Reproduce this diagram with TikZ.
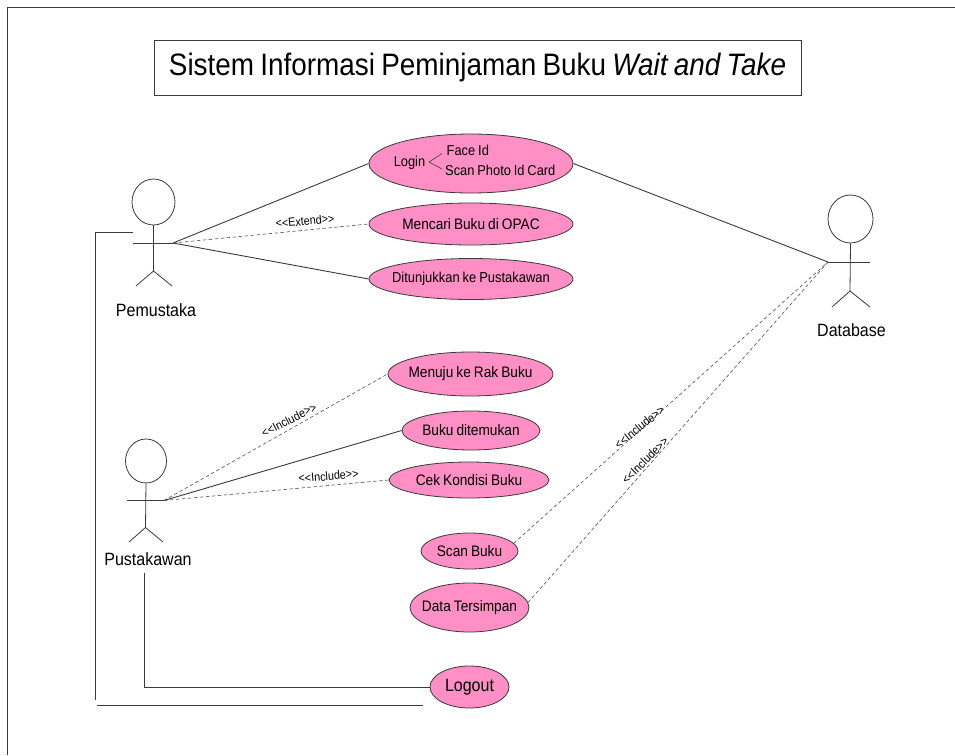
\documentclass[tikz,border=0pt]{standalone}
\usepackage{fontspec}
\setmainfont{Liberation Sans}
\newfontfamily\narrowfam[FakeStretch=0.9,WordSpace=0.8]{Liberation Sans}
\usetikzlibrary{shapes.geometric}
\definecolor{ucpink}{HTML}{FF8FC4}
\definecolor{linegrey}{HTML}{3A3A3A}
\definecolor{dashgrey}{HTML}{505050}
\tikzset{
  usecase/.style n args={2}{ellipse,draw=linegrey,line width=0.8pt,fill=ucpink,inner sep=0pt,minimum width=#1pt,minimum height=#2pt,text=black,font=\narrowfam\fontsize{15.2}{17}\selectfont},
  conn/.style={draw=linegrey,line width=0.9pt},
  dash conn/.style={draw=dashgrey,line width=0.6pt,dash pattern=on 3.5pt off 2.5pt},
  actorline/.style={draw=linegrey,line width=0.8pt},
  actorlabel/.style={font=\narrowfam\fontsize{17.8}{20}\selectfont,text=black,inner sep=0pt},
  stereo/.style={font=\narrowfam\fontsize{12}{14}\selectfont,text=black,inner sep=0pt},
  plain text/.style={font=\narrowfam\fontsize{14.3}{16}\selectfont,text=black,inner sep=0pt},
  small case/.style={font=\narrowfam\fontsize{14.4}{16}\selectfont},
}
\newcommand{\casetext}[1]{\makebox[0pt][c]{#1}}
\begin{document}
\begin{tikzpicture}[x=1pt,y=-1pt]
\useasboundingbox (0,0) rectangle (955,755);
\fill[white] (0,0) rectangle (955,755);
% frame
\coordinate (fbl) at (7,755);
\coordinate (ftl) at (7,7);
\coordinate (ftr) at (955,7);
\draw[actorline] (fbl) -- (ftl) -- (ftr);
% title
\node[draw=linegrey,line width=0.8pt,minimum width=647pt,minimum height=55pt,inner sep=0pt,font=\narrowfam\fontsize{31}{36}\selectfont] (title) at (477.5,67.5) {Sistem Informasi Peminjaman Buku \textit{Wait and Take}};
% use cases
\node[usecase={204}{59}] (login) at (471,163.5) {};
\node[usecase={204}{42}] (opac) at (471,224) {\casetext{Mencari Buku di OPAC}};
\node[usecase={204}{41},small case] (tunjuk) at (471,279) {\casetext{Ditunjukkan ke Pustakawan}};
\node[usecase={165}{44}] (rak) at (470.5,374) {\casetext{Menuju ke Rak Buku}};
\node[usecase={138}{39}] (temu) at (471,430.5) {\casetext{Buku ditemukan}};
\node[usecase={160}{36}] (cek) at (469,480) {\casetext{Cek Kondisi Buku}};
\node[usecase={97}{36}] (scan) at (469.5,551) {\casetext{Scan Buku}};
\node[usecase={119}{49}] (data) at (469.5,607.5) {\casetext{Data Tersimpan}};
\node[usecase={79}{42},font=\narrowfam\fontsize{17.8}{20}\selectfont] (logout) at (469.5,687) {\casetext{Logout}};
% login contents
\node[plain text] (logintxt) at (409.5,163) {Login};
\node[plain text,anchor=west] (faceid) at (446.5,150.5) {Face Id};
\node[plain text,anchor=west] (scanid) at (445,170) {Scan Photo Id Card};
\coordinate (brtip) at (429,162);
\coordinate (brup) at (442,153.5);
\coordinate (brdn) at (442,169);
\draw[actorline,line width=0.6pt] (brup) -- (brtip) -- (brdn);
% Pemustaka
\coordinate (pmA) at (173,243);
\coordinate (pmB) at (133,243);
\coordinate (pmHip) at (153.5,271);
\node[ellipse,draw=linegrey,line width=0.8pt,minimum width=43pt,minimum height=46pt,inner sep=0pt] (pmHead) at (153.5,202) {};
\draw[actorline] (pmHead.south) -- (pmHip);
\draw[actorline] (pmB) -- (pmA);
\coordinate (pmL) at (136,286);
\coordinate (pmR) at (172,286);
\draw[actorline] (pmL) -- (pmHip) -- (pmR);
\node[actorlabel] (pmLabel) at (156,310) {Pemustaka};
% Pustakawan
\coordinate (ptA) at (164,500.5);
\coordinate (ptB) at (127,500.5);
\coordinate (ptHip) at (145.5,527.5);
\node[ellipse,draw=linegrey,line width=0.8pt,minimum width=41pt,minimum height=44pt,inner sep=0pt] (ptHead) at (146,461) {};
\draw[actorline] (ptHead.south) -- (ptHip);
\draw[actorline] (ptB) -- (ptA);
\coordinate (ptL) at (129,542);
\coordinate (ptR) at (163,542);
\draw[actorline] (ptL) -- (ptHip) -- (ptR);
\node[actorlabel] (ptLabel) at (148,559) {Pustakawan};
% Database
\coordinate (dbA) at (828,262);
\coordinate (dbB) at (870,262);
\coordinate (dbHip) at (850,291);
\node[ellipse,draw=linegrey,line width=0.8pt,minimum width=45pt,minimum height=48pt,inner sep=0pt] (dbHead) at (850.5,219) {};
\draw[actorline] (dbHead.south) -- (dbHip);
\draw[actorline] (dbA) -- (dbB);
\coordinate (dbL) at (832,307);
\coordinate (dbR) at (870,307);
\draw[actorline] (dbL) -- (dbHip) -- (dbR);
\node[actorlabel] (dbLabel) at (851.5,330) {Database};
% connectors
\draw[conn] (pmA) -- (login.west);
\draw[dash conn] (pmA) -- (opac.west);
\draw[conn] (pmA) -- (tunjuk.west);
\draw[conn] (login.east) -- (dbA);
\draw[dash conn] (ptA) -- (rak.west);
\draw[conn] (ptA) -- (temu.west);
\draw[dash conn] (ptA) -- (cek.west);
\draw[dash conn] (scan.10) -- (dbA);
\draw[dash conn] (data.5) -- (dbA);
% outer routes
\coordinate (rA) at (133,232.5);
\coordinate (rB) at (95,232.5);
\coordinate (rC) at (95,700);
\draw[conn] (rA) -- (rB) -- (rC);
\coordinate (rD) at (97,705);
\coordinate (rE) at (423,705);
\draw[conn] (rD) -- (rE);
\coordinate (lgS) at (144,573);
\draw[conn] (lgS) |- (logout.west);
% stereotypes
\node[stereo,rotate=5] (s1) at (305,221) {<{}<Extend>{}>};
\node[stereo,rotate=27] (s2) at (289,420) {<{}<Include>{}>};
\node[stereo,rotate=5] (s3) at (328.5,476) {<{}<Include>{}>};
\node[stereo,rotate=39] (s4) at (639.5,427) {<{}<Include>{}>};
\node[stereo,rotate=45] (s5) at (645,460.5) {<{}<Include>{}>};
\end{tikzpicture}
\end{document}
